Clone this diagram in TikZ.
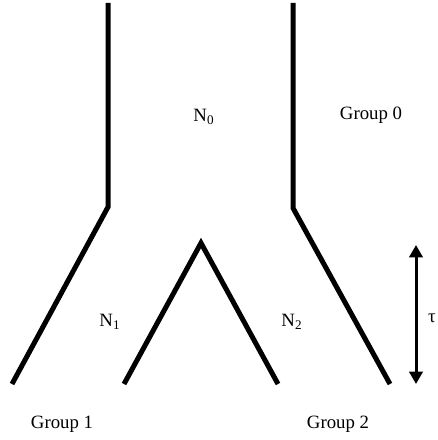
\documentclass[tikz,border=0pt]{standalone}
\usepackage{fontspec}
\setmainfont{Liberation Serif}
\usetikzlibrary{arrows.meta}
\tikzset{
  lineage/.style={line width=0.1cm, line cap=butt, line join=miter},
  spanarrow/.style={line width=0.06cm, {Triangle[width=0.27cm,length=0.25cm]}-{Triangle[width=0.27cm,length=0.25cm]}},
  lbl/.style={inner sep=0pt, font=\fontsize{10.7}{13}\selectfont}
}
\begin{document}
\begin{tikzpicture}[x=0.02cm,y=0.02cm]
\useasboundingbox (0,0) rectangle (437,440);

% ancestral lineage splitting into group 1 and group 2
\coordinate (lTop) at (108,437);
\coordinate (lBend) at (108,233);
\coordinate (lEnd) at (12,56);
\coordinate (rTop) at (293,437);
\coordinate (rBend) at (293,232);
\coordinate (rEnd) at (390,56);
\draw[lineage] (lTop) -- (lBend) -- (lEnd);
\draw[lineage] (rTop) -- (rBend) -- (rEnd);

% inner wedge
\coordinate (wLeft) at (124,56);
\coordinate (wApex) at (201,197);
\coordinate (wRight) at (278,56);
\draw[lineage] (wLeft) -- (wApex) -- (wRight);

% split time
\coordinate (tauTop) at (416,195);
\coordinate (tauBot) at (416,56);
\draw[spanarrow] (tauTop) -- (tauBot);
\node[lbl] (tau) at (432,122) {τ};

% population sizes and groups
\node[lbl] (nZero) at (204,323) {N\textsubscript{0}};
\node[lbl] (nOne) at (110,118) {N\textsubscript{1}};
\node[lbl] (nTwo) at (292,118) {N\textsubscript{2}};
\node[lbl] (gZero) at (371,325) {Group 0};
\node[lbl] (gOne) at (62,16) {Group 1};
\node[lbl] (gTwo) at (338,16) {Group 2};
\end{tikzpicture}
\end{document}
